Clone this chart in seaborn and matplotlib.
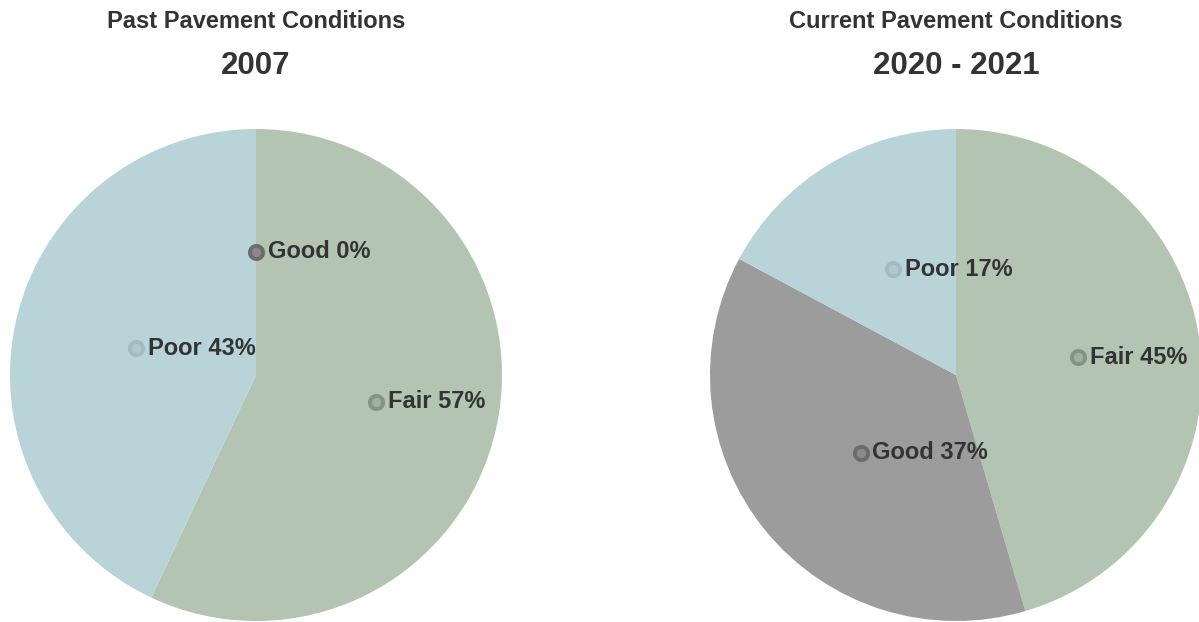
import numpy as np
import matplotlib
matplotlib.use('Agg')
import matplotlib.pyplot as plt
import seaborn as sns

# data
past_labels = ['Fair', 'Poor', 'Good']
past_values = [57, 43, 0]
current_labels = ['Fair', 'Good', 'Poor']
current_values = [45, 37, 17]

titles = ['Past Pavement Conditions', 'Current Pavement Conditions']
years = ['2007', '2020 - 2021']

slice_colors = {'Fair': '#b3c4b2', 'Poor': '#b8d4d9', 'Good': '#9c9c9c'}
ring_colors = {'Fair': '#839481', 'Poor': '#a1bdc3', 'Good': '#6c6c6c'}
dot_colors = {'Fair': '#a0b19f', 'Poor': '#afcacf', 'Good': '#8a8a8a'}
text_col = '#333333'

sns.set_theme(style='white')
plt.rcParams['font.family'] = ['Liberation Sans', 'DejaVu Sans']

W, H = 1199, 622
fig = plt.figure(figsize=(W / 100, H / 100), dpi=100)
fig.patch.set_facecolor('white')

# pie boxes in pixels: left, top, size
boxes = [(10, 129, 492), (710, 129, 492)]
centers_x = [256, 956]


def draw_pie(ax, labels, values):
    wedges, _ = ax.pie(values, colors=[slice_colors[l] for l in labels],
                       startangle=90, counterclock=False,
                       wedgeprops={'linewidth': 0})
    ax.set_aspect('equal')
    ax.set_xlim(-1, 1)
    ax.set_ylim(-1, 1)
    for w, lab, val in zip(wedges, labels, values):
        mid = np.deg2rad((w.theta1 + w.theta2) / 2)
        x, y = 0.5 * np.cos(mid), 0.5 * np.sin(mid)
        ax.plot(x, y, 'o', ms=9.5, mfc=dot_colors[lab], mec=ring_colors[lab], mew=2.8)
        ax.annotate(f'{lab} {val}%', (x, y), xytext=(8.5, 0), textcoords='offset points',
                    ha='left', va='center', fontsize=17, fontweight='bold',
                    color=text_col, annotation_clip=False)


for (left, top, size), labels, values in zip(boxes, [past_labels, current_labels],
                                             [past_values, current_values]):
    ax = fig.add_axes([left / W, (H - top - size) / H, size / W, size / H])
    ax.axis('off')
    draw_pie(ax, labels, values)

for cx, t, yr in zip(centers_x, titles, years):
    fig.text(cx / W, 1 - 22 / H, t, ha='center', va='center', fontsize=17,
             fontweight='bold', color=text_col)
    fig.text(cx / W, 1 - 66 / H, yr, ha='center', va='center', fontsize=22.5,
             fontweight='bold', color=text_col)

fig.savefig('out.png', dpi=100, facecolor='white')
